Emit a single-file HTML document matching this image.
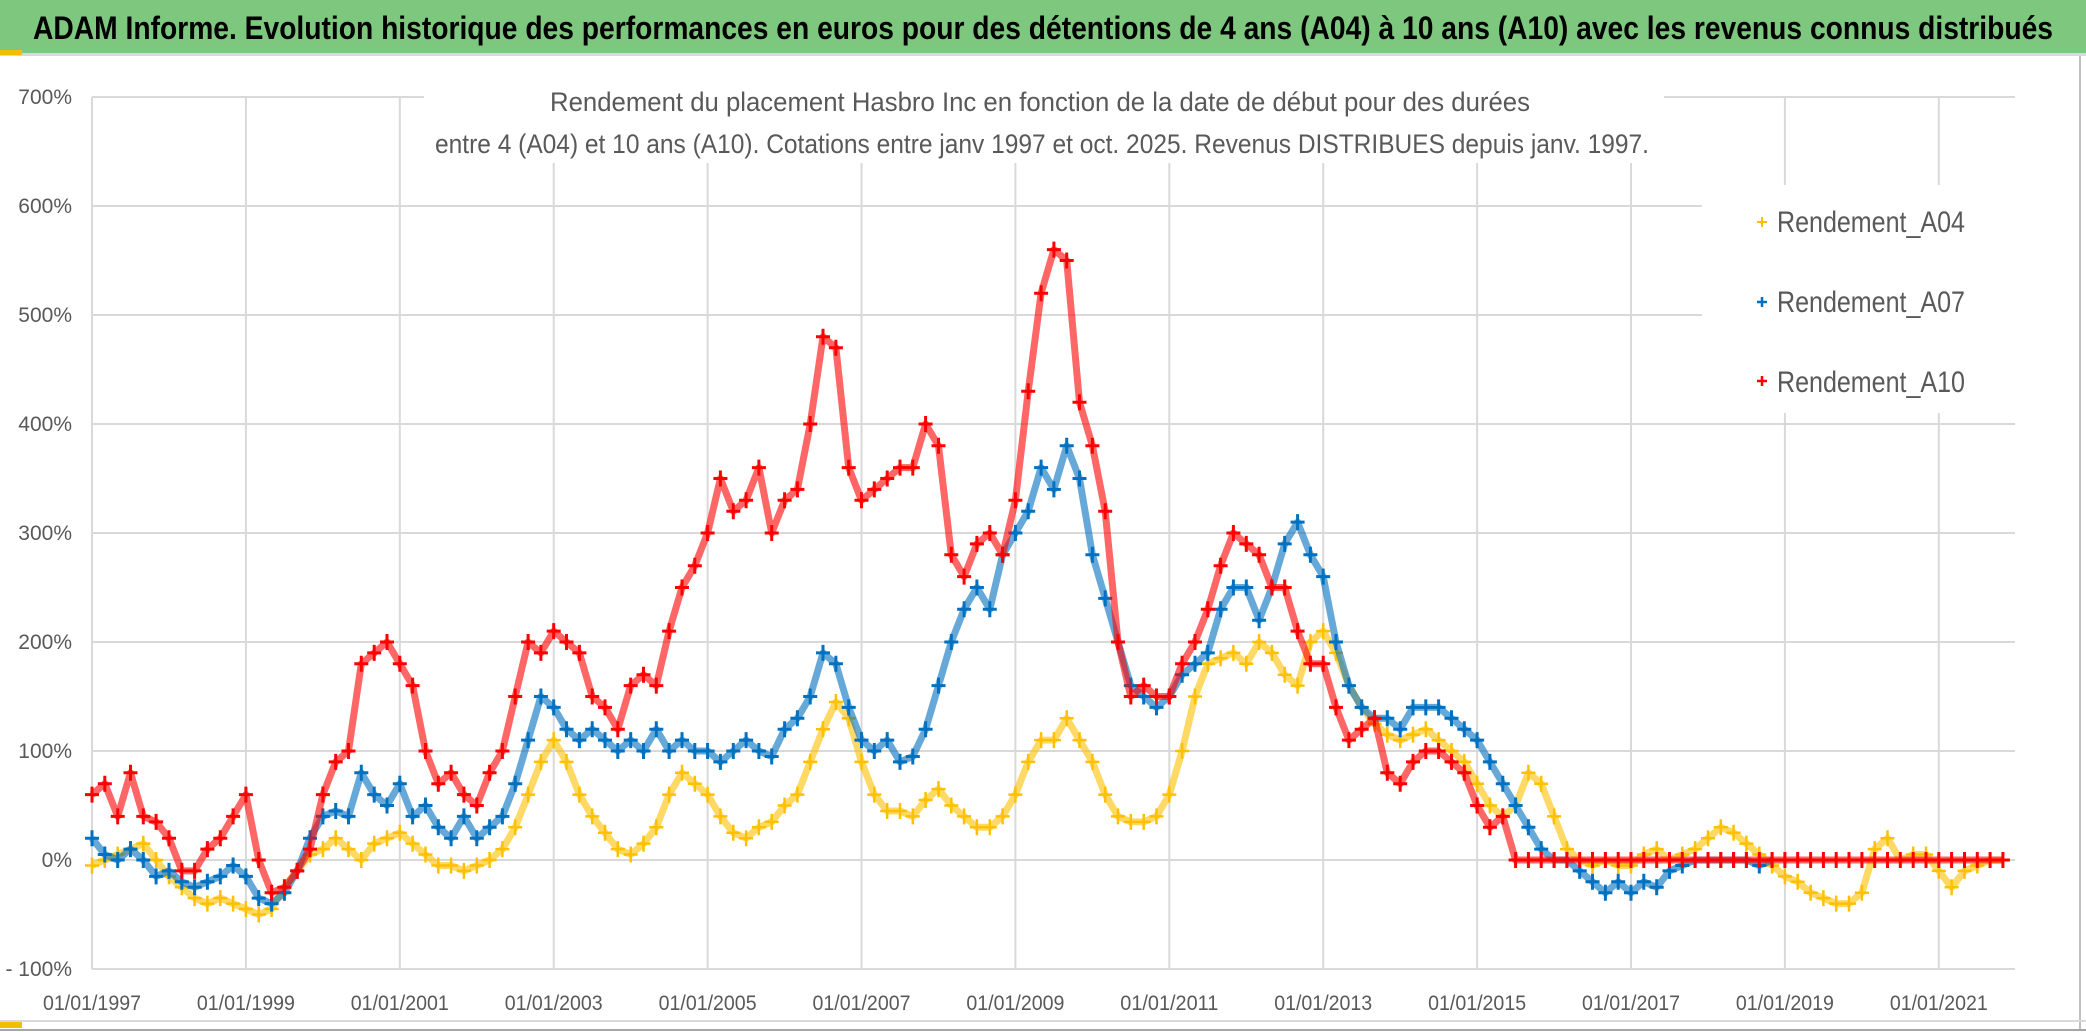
<!DOCTYPE html>
<html><head><meta charset="utf-8"><style>
html,body{margin:0;padding:0;background:#fff;}
svg{display:block;font-family:"Liberation Sans Narrow","Liberation Sans",sans-serif;}
</style></head><body>
<svg id="chart" width="2086" height="1032" viewBox="0 0 2086 1032">
  <rect x="0" y="0" width="2086" height="1032" fill="#fff"/>
  <rect x="0" y="0" width="2086" height="53" fill="#7dc87e"/>
  <rect x="0" y="53" width="2086" height="3" fill="#d9d9d9"/>
  <rect x="0" y="50" width="22" height="5" fill="#f0c000"/>
  <rect x="0" y="1022" width="22" height="6" fill="#f0c000"/>
  <line x1="2080" y1="56" x2="2080" y2="1030" stroke="#bfbfbf" stroke-width="2"/>
  <line x1="0" y1="1021" x2="2086" y2="1021" stroke="#d9d9d9" stroke-width="2"/>
  <line x1="0" y1="1030" x2="2086" y2="1030" stroke="#a6a6a6" stroke-width="2"/>
  <text x="33" y="39" font-size="32" font-weight="bold" fill="#000" textLength="2020" lengthAdjust="spacingAndGlyphs">ADAM Informe. Evolution historique des performances en euros pour des détentions de 4 ans (A04) à 10 ans (A10) avec les revenus connus distribués</text>
  <g id="grid"></g>
  <g id="ylabels"></g>
  <g id="xlabels"></g>
  <g id="series"></g>
  <rect x="424" y="60" width="1240" height="103" fill="#fff"/>
  <text x="1040" y="111" font-size="27" fill="#595959" text-anchor="middle" textLength="980" lengthAdjust="spacingAndGlyphs">Rendement du placement Hasbro Inc en fonction de la date de début pour des durées</text>
  <text x="1042" y="153" font-size="27" fill="#595959" text-anchor="middle" textLength="1214" lengthAdjust="spacingAndGlyphs">entre 4 (A04) et 10 ans (A10). Cotations entre janv 1997 et oct. 2025. Revenus DISTRIBUES depuis janv. 1997.</text>
  <g>
    <rect x="1702" y="185" width="313" height="228" fill="#fff"/>
    <g>
      <path d="M1757 222h10M1762 217v10" stroke="#ffc000" stroke-width="2"/>
      <text x="1777" y="232" font-size="30" fill="#595959" textLength="188" lengthAdjust="spacingAndGlyphs">Rendement_A04</text>
    </g>
    <g>
      <path d="M1757 302h10M1762 297v10" stroke="#0070c0" stroke-width="2.5"/>
      <text x="1777" y="312" font-size="30" fill="#595959" textLength="188" lengthAdjust="spacingAndGlyphs">Rendement_A07</text>
    </g>
    <g>
      <path d="M1757 381h10M1762 376v10" stroke="#ff0000" stroke-width="2.5"/>
      <text x="1777" y="392" font-size="30" fill="#595959" textLength="188" lengthAdjust="spacingAndGlyphs">Rendement_A10</text>
    </g>
  </g>
</svg>
<script>
const yTicks = [700,600,500,400,300,200,100,0,-100];
const yTickLabels = ["700%","600%","500%","400%","300%","200%","100%","0%","- 100%"];
const xTickYears = [1997,1999,2001,2003,2005,2007,2009,2011,2013,2015,2017,2019,2021];
const xTickLabels = ["01/01/1997","01/01/1999","01/01/2001","01/01/2003","01/01/2005","01/01/2007","01/01/2009","01/01/2011","01/01/2013","01/01/2015","01/01/2017","01/01/2019","01/01/2021"];
const startYear = 1997;
const pointsPerYear = 6;
const seriesA04 = [
-5,0,5,10,15,0, -15,-25,-35,-40,-35,-40, -45,-50,-45,-25,-10,5, 10,20,10,0,15,20,
25,15,5,-5,-5,-10, -5,0,10,30,60,90, 110,90,60,40,25,10, 5,15,30,60,80,70,
60,40,25,20,30,35, 50,60,90,120,145,130, 90,60,45,45,40,55, 65,50,40,30,30,40,
60,90,110,110,130,110, 90,60,40,35,35,40, 60,100,150,180,185,190, 180,200,190,170,160,200,
210,190,160,140,125,115, 110,115,120,110,100,90, 70,50,40,50,80,70, 40,10,0,-5,0,-5,
-5,5,10,0,5,10, 20,30,25,15,5,-5, -15,-20,-30,-35,-40,-40, -30,10,20,0,5,5, -10,-25,-10,-5,0,0];
const seriesA07 = [
20,5,0,10,0,-15, -10,-20,-25,-20,-15,-5, -15,-35,-40,-30,-10,20, 40,45,40,80,60,50,
70,40,50,30,20,40, 20,30,40,70,110,150, 140,120,110,120,110,100, 110,100,120,100,110,100,
100,90,100,110,100,95, 120,130,150,190,180,140, 110,100,110,90,95,120, 160,200,230,250,230,280,
300,320,360,340,380,350, 280,240,200,160,150,140, 150,170,180,190,230,250, 250,220,250,290,310,280,
260,200,160,140,130,130, 120,140,140,140,130,120, 110,90,70,50,30,10, 0,0,-10,-20,-30,-20,
-30,-20,-25,-10,-5,0, 0,0,0,0,-5,0];
const seriesA10 = [
60,70,40,80,40,35, 20,-10,-10,10,20,40, 60,0,-30,-25,-10,10, 60,90,100,180,190,200,
180,160,100,70,80,60, 50,80,100,150,200,190, 210,200,190,150,140,120, 160,170,160,210,250,270,
300,350,320,330,360,300, 330,340,400,480,470,360, 330,340,350,360,360,400, 380,280,260,290,300,280,
330,430,520,560,550,420, 380,320,200,150,160,150, 150,180,200,230,270,300, 290,280,250,250,210,180,
180,140,110,120,130,80, 70,90,100,100,90,80, 50,30,40,0,0,0,
0,0,0,0,0,0, 0,0,0,0,0,0, 0,0,0,0,0,0, 0,0,0,0,0,0, 0,0,0,0,0,0, 0,0,0,0,0,0];

const NS = "http://www.w3.org/2000/svg";
const X0 = 92, X1 = 2015, Y0 = 97, Y1 = 969;
const xMin = 1997, xMax = 2021.99, yMin = -100, yMax = 700;
function xScale(t){ return X0 + (t - xMin) / (xMax - xMin) * (X1 - X0); }
function yScale(v){ return Y1 - (v - yMin) / (yMax - yMin) * (Y1 - Y0); }
function mk(tag, attrs, parent){
  const el = document.createElementNS(NS, tag);
  for (const k in attrs) el.setAttribute(k, attrs[k]);
  parent.appendChild(el);
  return el;
}
const grid = document.getElementById('grid');
yTicks.forEach(function(v){
  const l = mk('line', {x1:X0, x2:X1, y1:yScale(v), y2:yScale(v), stroke:'#d9d9d9', 'stroke-width':2}, grid);
  
  
});
xTickYears.forEach(function(y){
  const l = mk('line', {x1:xScale(y), x2:xScale(y), y1:Y0, y2:Y1, stroke:'#d9d9d9', 'stroke-width':2}, grid);
  
  
});
const yl = document.getElementById('ylabels');
yTicks.forEach(function(v, i){
  const t = mk('text', {x:72, y:yScale(v)+7, 'font-size':21, fill:'#595959', 'text-anchor':'end'}, yl);
  t.textContent = yTickLabels[i];
  
  
});
const xl = document.getElementById('xlabels');
xTickYears.forEach(function(y, i){
  const t = mk('text', {x:xScale(y)-49, y:1010, 'font-size':21, fill:'#595959', textLength:98, lengthAdjust:'spacingAndGlyphs'}, xl);
  t.textContent = xTickLabels[i];
  
  
});
const layer = document.getElementById('series');
function drawSeries(values, color, name, sw){
  const g = mk('g', {}, layer);
  
  
  const pts = values.map(function(v, i){ return [xScale(startYear + i / pointsPerYear), yScale(v)]; });
  const line = mk('polyline', {points: pts.map(function(p){return p[0].toFixed(1)+','+p[1].toFixed(1);}).join(' '), fill:'none', stroke:color, 'stroke-width':7, 'stroke-linejoin':'round', opacity:0.6}, g);
  
  
  let d = '';
  pts.forEach(function(p){ d += 'M'+(p[0]-7).toFixed(1)+' '+p[1].toFixed(1)+'h14M'+p[0].toFixed(1)+' '+(p[1]-8).toFixed(1)+'v16'; });
  const m = mk('path', {d:d, stroke:color, 'stroke-width':sw, fill:'none'}, g);
  
  
}
drawSeries(seriesA04, '#ffc000', 'series-a04', 2.5);
drawSeries(seriesA07, '#0070c0', 'series-a07', 3);
drawSeries(seriesA10, '#ff0000', 'series-a10', 3);
</script>
</body></html>
